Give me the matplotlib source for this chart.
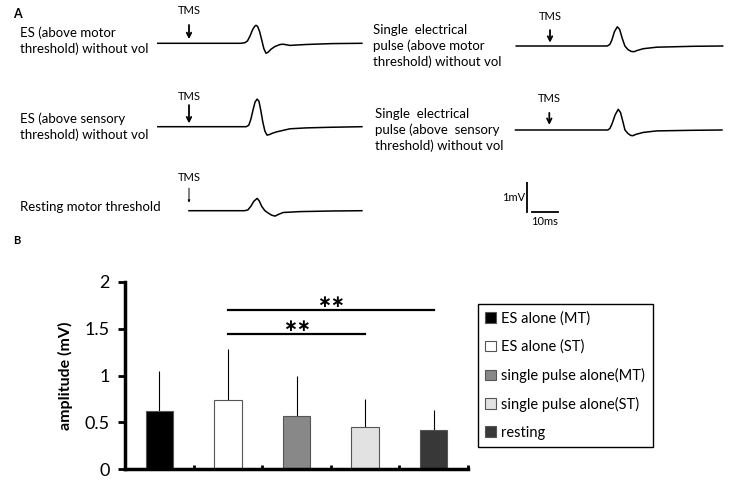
import numpy as np
import matplotlib
matplotlib.use("Agg")
import matplotlib.pyplot as plt
from matplotlib.patches import Patch

plt.rcParams['font.family'] = ['Lato', 'DejaVu Sans']

# ---- panel B data ----
conditions = ['ES alone (MT)', 'ES alone (ST)', 'single pulse alone(MT)',
              'single pulse alone(ST)', 'resting']
amplitude = [0.62, 0.74, 0.57, 0.45, 0.42]
amplitude_sd = [0.43, 0.54, 0.42, 0.30, 0.21]
bar_colors = ['#000000', '#ffffff', '#888888', '#e2e2e2', '#383838']
# significance brackets: (from bar, to bar, height)
sig_pairs = [(1, 4, 1.70), (1, 3, 1.44)]

# ---- panel A traces (time in ms from TMS, amplitude in mV) ----
t_es_mt = [-12, 20, 21.5, 22.5, 23.5, 24.5, 25.3, 25.8, 26.4, 27.2, 28, 28.8, 29.6, 30.4,
           31.5, 33, 35, 36.2, 38.8, 45, 55, 66.5]
v_es_mt = [0, 0, 0.02, 0.08, 0.25, 0.46, 0.57, 0.6, 0.56, 0.38, 0.1, -0.18, -0.33, -0.3,
           -0.2, -0.11, -0.04, -0.03, -0.07, -0.04, -0.01, 0]

t_es_st = [-12, 22, 23, 23.8, 24.6, 25.4, 26.2, 26.9, 27.6, 28.4, 29.2, 30, 31, 32,
           33.8, 38.8, 45, 54, 66.5]
v_es_st = [0, 0, 0.05, 0.25, 0.55, 0.82, 0.92, 0.85, 0.55, 0.15, -0.15, -0.28, -0.26, -0.22,
           -0.17, -0.07, -0.04, -0.02, 0]

t_rest = [0, 21.5, 22.7, 23.8, 25, 26.2, 27, 28, 29.2, 30.5, 31.8, 33.1, 34.5, 36.2,
          42.7, 55, 66.5]
v_rest = [0, 0, 0.03, 0.15, 0.32, 0.41, 0.33, 0.14, 0.0, -0.08, -0.15, -0.18, -0.12, -0.06,
          -0.03, -0.01, 0]

t_sp_mt = [-13, 22, 23, 23.8, 24.8, 25.9, 26.8, 27.8, 28.8, 30, 31.2, 32.3, 33.5, 35.9,
           41, 55, 66.4]
v_sp_mt = [0, 0, 0.05, 0.2, 0.48, 0.64, 0.55, 0.25, 0.0, -0.12, -0.18, -0.19, -0.15, -0.09,
           -0.04, -0.01, 0]

t_sp_st = [-13, 22.5, 23.3, 24.2, 25.3, 26.5, 27.4, 28.3, 29.1, 30.3, 31.3, 32.1, 33.5,
           36.2, 41.3, 55, 66.4]
v_sp_st = [0, 0, 0.05, 0.22, 0.5, 0.69, 0.58, 0.28, 0.0, -0.12, -0.18, -0.19, -0.14,
           -0.08, -0.03, -0.01, 0]

W, H = 739, 488
PX_MS, PX_MV = 2.6, 30.0

fig = plt.figure(figsize=(W / 100, H / 100), dpi=100)


def trace_axes(x0, y0, t_min, t_max):
    # x0, y0: pixel position of (t=0, v=0)
    left = x0 + t_min * PX_MS
    width = (t_max - t_min) * PX_MS
    ax = fig.add_axes([left / W, 1 - (y0 + PX_MV) / H, width / W, 2 * PX_MV / H])
    ax.set_xlim(t_min, t_max)
    ax.set_ylim(-1, 1)
    ax.axis('off')
    return ax


def tms_marker(ax, top, bottom, text_y, thin=False):
    ax.annotate('', xy=(0, bottom), xytext=(0, top),
                arrowprops=dict(arrowstyle='->' if not thin else '-|>',
                                lw=1.3 if not thin else 0.7,
                                mutation_scale=8 if not thin else 3,
                                color='black', shrinkA=0, shrinkB=0))
    ax.text(0, text_y, 'TMS', ha='center', va='center', fontsize=8, clip_on=False)


traces = [
    (189, 43.3, t_es_mt, v_es_mt, (0.61, 0.14, 1.08), False),
    (189, 126.7, t_es_st, v_es_st, (0.72, 0.11, 1.02), False),
    (189, 210.7, t_rest, v_rest, (0.75, 0.27, 1.12), True),
    (550, 46.0, t_sp_mt, v_sp_mt, (0.53, 0.11, 0.98), False),
    (549.3, 130.0, t_sp_st, v_sp_st, (0.57, 0.17, 1.06), False),
]
for x0, y0, t, v, (a_top, a_bot, ty), thin in traces:
    ax = trace_axes(x0, y0, -14, 67)
    ax.plot(t, v, color='black', lw=1.1, solid_joinstyle='round')
    tms_marker(ax, a_top, a_bot, ty, thin)

# scale bar
sb = trace_axes(527, 212, -10, 20)
sb.plot([0, 0], [0, 1], color='black', lw=1.3)
sb.plot([1.9, 11.9], [0, 0], color='black', lw=1.3)
sb.text(-0.8, 0.47, '1mV', ha='right', va='center', fontsize=8)
sb.text(6.9, -0.33, '10ms', ha='center', va='center', fontsize=8)

# trace labels
lab_fs = 9.5
fig.text(13 / W, 1 - 14 / H, 'A', fontsize=9, fontweight='bold', va='center')
fig.text(20 / W, 1 - 41 / H, 'ES (above motor\nthreshold) without vol',
         fontsize=lab_fs, va='center', linespacing=1.35)
fig.text(20 / W, 1 - 127 / H, 'ES (above sensory\nthreshold) without vol',
         fontsize=lab_fs, va='center', linespacing=1.35)
fig.text(20 / W, 1 - 207 / H, 'Resting motor threshold', fontsize=lab_fs, va='center')
fig.text(373 / W, 1 - 46 / H, 'Single  electrical\npulse (above motor\nthreshold) without vol',
         fontsize=lab_fs, va='center', linespacing=1.35)
fig.text(375 / W, 1 - 130 / H, 'Single  electrical\npulse (above  sensory\nthreshold) without vol',
         fontsize=lab_fs, va='center', linespacing=1.35)
fig.text(13 / W, 1 - 240 / H, 'B', fontsize=8, fontweight='bold', va='center')

# ---- panel B ----
axb = fig.add_axes([125 / W, 1 - 469 / H, 343 / W, 187 / H])
x = np.arange(len(conditions))
axb.bar(x, amplitude, width=0.4, color=bar_colors, edgecolor='#555555', linewidth=0.8, zorder=2)
axb.errorbar(x, amplitude, yerr=[np.zeros(len(x)), amplitude_sd], fmt='none',
             ecolor='black', elinewidth=0.8, capsize=0, zorder=1)
axb.set_xlim(-0.5, len(conditions) - 0.5)
axb.set_ylim(0, 2)
axb.set_yticks([0, 0.5, 1, 1.5, 2])
axb.set_yticklabels(['0', '0.5', '1', '1.5', '2'])
axb.set_xticks(x[:-1] + 0.5)
axb.set_xticks([len(conditions) - 0.5], minor=True)
axb.tick_params(axis='x', direction='in', length=3, width=2, labelbottom=False)
axb.tick_params(axis='x', which='minor', direction='in', length=3, width=2)
axb.tick_params(axis='y', direction='out', length=5, width=2, labelsize=13, pad=6)
for side in ['top', 'right']:
    axb.spines[side].set_visible(False)
for side in ['left', 'bottom']:
    axb.spines[side].set_linewidth(2.5)
axb.set_ylabel('amplitude (mV)', fontsize=11.5, fontweight='bold', labelpad=8)

for a, b, h in sig_pairs:
    axb.plot([a, b], [h, h], color='black', lw=1.6, clip_on=False)
    axb.text((a + b) / 2, h + 0.09, '\u2217\u2217', ha='center', va='center',
             fontsize=12, fontweight='bold', family='DejaVu Sans')

handles = [Patch(facecolor=c, edgecolor='#555555', linewidth=0.8) for c in bar_colors]
fig.legend(handles, conditions, loc='upper left', bbox_to_anchor=(478 / W, 1 - 304 / H),
           bbox_transform=fig.transFigure, fontsize=10.5, frameon=True, fancybox=False,
           edgecolor='black', framealpha=1, handlelength=0.7, handleheight=0.7,
           handletextpad=0.4, labelspacing=0.95, borderpad=0.5, borderaxespad=0)

fig.savefig('out.png', dpi=100)
